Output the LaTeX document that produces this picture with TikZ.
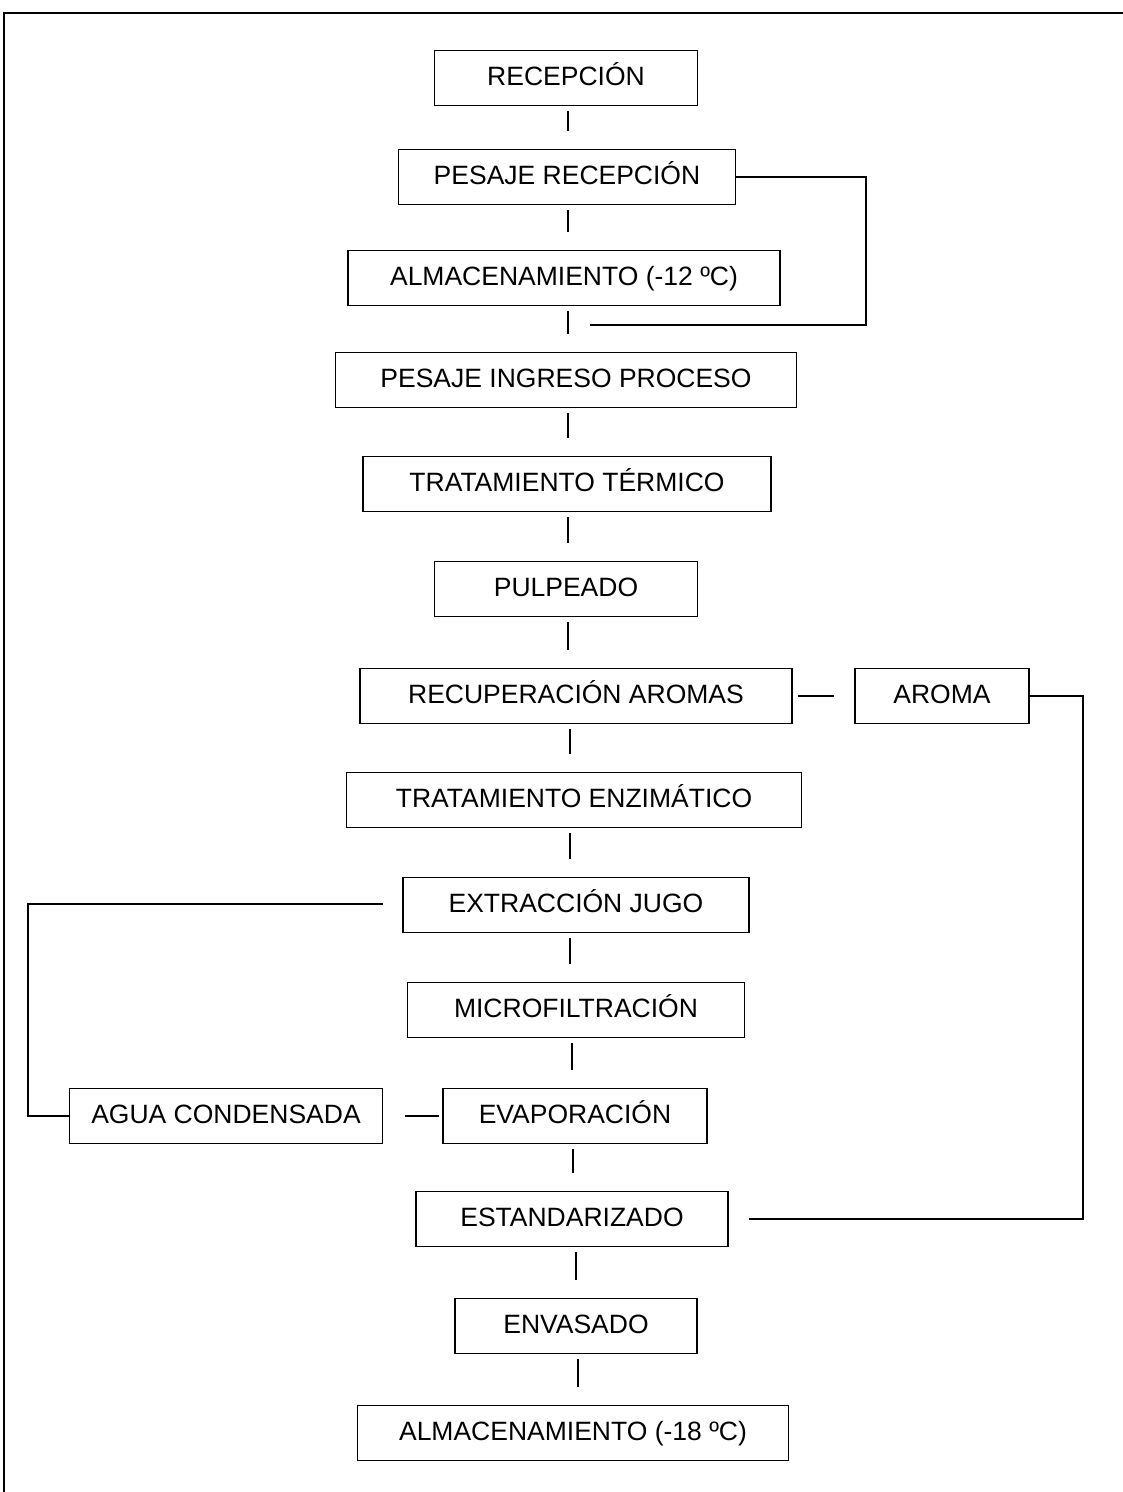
\documentclass[tikz,border=0pt]{standalone}
\usepackage{fontspec}
\setmainfont{Liberation Sans}
\usetikzlibrary{calc}
\tikzset{
  box/.style={draw, line width=1.8pt, rectangle, minimum height=55pt, inner sep=0pt, text height=19pt, text depth=5pt, font=\fontsize{26.5pt}{30pt}\selectfont},
  conn/.style={line width=1.8pt},
}
\begin{document}
\begin{tikzpicture}[x=1pt,y=-1pt]
\useasboundingbox (0,0) rectangle (1123,1492);
\draw[conn] (4,1492) -- (4,13) -- (1123,13);

\node[box, minimum width=263pt] (rec) at (566,78) {RECEPCIÓN};
\node[box, minimum width=337pt] (pr) at (567,177) {PESAJE RECEPCIÓN};
\node[box, minimum width=432pt] (alm) at (564,278) {ALMACENAMIENTO (-12 ºC)};
\node[box, minimum width=461pt] (pip) at (566,380) {PESAJE INGRESO PROCESO};
\node[box, minimum width=408pt] (tt) at (567,484) {TRATAMIENTO TÉRMICO};
\node[box, minimum width=263pt] (pul) at (566,589) {PULPEADO};
\node[box, minimum width=432pt] (ra) at (576,696) {RECUPERACIÓN AROMAS};
\node[box, minimum width=174pt] (aro) at (942,696) {AROMA};
\node[box, minimum width=455pt] (te) at (574,800) {TRATAMIENTO ENZIMÁTICO};
\node[box, minimum width=346pt] (ej) at (576,905) {EXTRACCIÓN JUGO};
\node[box, minimum width=337pt] (mf) at (576,1010) {MICROFILTRACIÓN};
\node[box, minimum width=313pt] (ag) at (226,1116) {AGUA CONDENSADA};
\node[box, minimum width=264pt] (ev) at (575,1116) {EVAPORACIÓN};
\node[box, minimum width=312pt] (est) at (572,1219) {ESTANDARIZADO};
\node[box, minimum width=242pt] (env) at (576,1326) {ENVASADO};
\node[box, minimum width=431pt] (alm2) at (573,1433) {ALMACENAMIENTO (-18 ºC)};

% vertical short connectors
\foreach \a/\b/\xx in {rec/pr/568, pr/alm/568, alm/pip/568, pip/tt/568, tt/pul/568, pul/ra/568, ra/te/570, te/ej/570, ej/mf/570, mf/ev/572, ev/est/573, est/env/576, env/alm2/578}{
  \draw[conn, shorten <=5pt, shorten >=18pt] (\a.south -| \xx,0) -- (\b.north -| \xx,0);
}

% loop from PESAJE RECEPCION
\coordinate (loopend) at (590,325);
\draw[conn] (pr.east) -- (866,177) -- (866,325) -- (loopend);

% recuperacion -> aroma
\draw[conn, shorten <=5pt, shorten >=20pt] (ra.east) -- (aro.west);

% aroma -> estandarizado
\coordinate (estend) at (749,1219);
\draw[conn] (aro.east) -- (1083,696) -- (1083,1219) -- (estend);

% extraccion -> agua condensada
\coordinate (ejend) at (383,904);
\draw[conn] (ejend) -- (28,904) -- (28,1116) -- (ag.west);

% agua condensada -- evaporacion
\draw[conn, shorten <=22pt, shorten >=3pt] (ag.east) -- (ev.west);
\end{tikzpicture}
\end{document}
